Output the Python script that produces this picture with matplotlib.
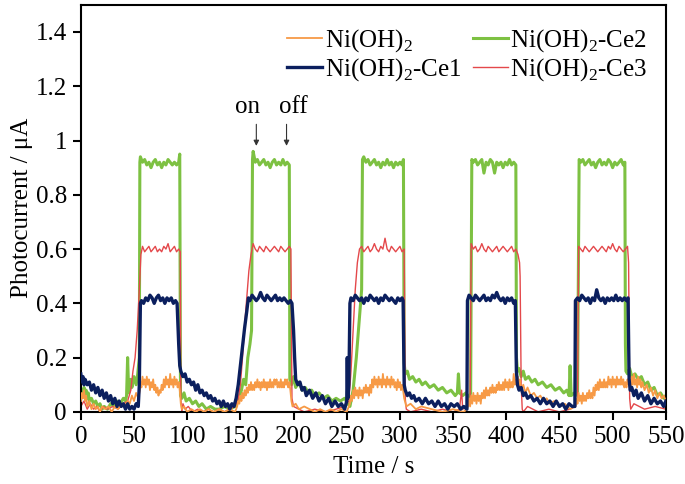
import numpy as np
import matplotlib
matplotlib.use("Agg")
import matplotlib.pyplot as plt

plt.rcParams['font.family'] = ['Liberation Serif', 'DejaVu Serif']
plt.rcParams['mathtext.fontset'] = 'custom'
plt.rcParams['mathtext.rm'] = 'Liberation Serif'

# (time / s, photocurrent / uA)
ni_oh2 = [
    (0, 0.04), (1, 0.07), (2, 0.05), (3, 0.08), (4, 0.04), (5, 0.06), (6, 0.02), (8, 0.04), (10, 0.01),
    (12, 0.03), (14, 0.01), (16, 0.02), (18, 0.0), (20, 0.02), (23, 0.01), (26, 0.02), (29, 0.0), (32, 0.02),
    (35, 0.01), (38, 0.03), (41, 0.02), (44, 0.04), (46, 0.03), (48, 0.06), (50, 0.04), (52, 0.07), (54, 0.05),
    (55.5, 0.08), (56, 0.11), (57, 0.09), (58, 0.13), (59, 0.10), (60, 0.12), (61, 0.09), (62, 0.13), (63, 0.10),
    (64, 0.12), (65, 0.08), (66, 0.11), (67, 0.09), (68, 0.12), (69, 0.08), (70, 0.10), (71, 0.07), (72, 0.09),
    (73, 0.06), (74, 0.08), (75, 0.07), (76, 0.10), (77, 0.08), (78, 0.12), (79, 0.09), (80, 0.13), (81, 0.10),
    (82, 0.12), (83, 0.09), (84, 0.14), (85, 0.10), (86, 0.12), (87, 0.09), (88, 0.13), (89, 0.10), (90, 0.12),
    (91, 0.09), (92, 0.11), (93, 0.08), (94, 0.03), (95, 0.01), (97, 0.02), (100, 0.0), (104, 0.01), (108, 0.0),
    (112, 0.01), (116, 0.0), (120, 0.01), (125, 0.0), (130, 0.01), (135, 0.0), (140, 0.01), (145, 0.0),
    (147, 0.02), (148, 0.04), (149, 0.03), (150, 0.06), (151, 0.04), (152, 0.07), (153, 0.05), (154, 0.08),
    (155, 0.06), (156, 0.09), (157, 0.07), (158, 0.10), (159, 0.08), (160, 0.11), (161, 0.08), (162, 0.10),
    (163, 0.08), (164, 0.11), (165, 0.09), (166, 0.12), (167, 0.09), (168, 0.11), (169, 0.08), (170, 0.11),
    (171, 0.09), (172, 0.12), (173, 0.09), (174, 0.11), (175, 0.08), (176, 0.11), (177, 0.09), (178, 0.12),
    (179, 0.09), (180, 0.11), (181, 0.09), (182, 0.12), (183, 0.10), (184, 0.12), (185, 0.09), (186, 0.11),
    (187, 0.09), (188, 0.12), (189, 0.09), (190, 0.11), (191, 0.09), (192, 0.12), (193, 0.10), (194, 0.12),
    (195, 0.09), (196, 0.11), (197, 0.08), (198, 0.04), (199, 0.02), (202, 0.03), (205, 0.01), (210, 0.02),
    (215, 0.01), (220, 0.0), (225, 0.01), (230, 0.0), (235, 0.01), (240, 0.0), (245, 0.01), (250, 0.0),
    (252, 0.02), (253, 0.03), (254, 0.06), (255, 0.04), (256, 0.08), (257, 0.05), (258, 0.09), (259, 0.06),
    (260, 0.08), (261, 0.05), (262, 0.09), (263, 0.06), (264, 0.08), (265, 0.05), (266, 0.09), (267, 0.07),
    (268, 0.10), (269, 0.07), (270, 0.09), (271, 0.06), (272, 0.10), (273, 0.07), (274, 0.12), (275, 0.09),
    (276, 0.13), (277, 0.10), (278, 0.12), (279, 0.09), (280, 0.13), (281, 0.10), (282, 0.12), (283, 0.09),
    (284, 0.14), (285, 0.10), (286, 0.12), (287, 0.09), (288, 0.13), (289, 0.10), (290, 0.12), (291, 0.09),
    (292, 0.13), (293, 0.10), (294, 0.12), (295, 0.09), (296, 0.11), (297, 0.08), (298, 0.12), (299, 0.09),
    (300, 0.11), (301, 0.08), (302, 0.10), (303, 0.08), (304, 0.05), (306, 0.02), (310, 0.03), (315, 0.01),
    (320, 0.02), (330, 0.01), (340, 0.0), (350, 0.01), (360, 0.0), (363, 0.01), (364, 0.02), (365, 0.05),
    (366, 0.02), (367, 0.06), (368, 0.03), (369, 0.07), (370, 0.04), (371, 0.06), (372, 0.03), (373, 0.07),
    (374, 0.04), (375, 0.06), (376, 0.03), (377, 0.07), (378, 0.05), (379, 0.08), (380, 0.05), (381, 0.09),
    (382, 0.06), (383, 0.08), (384, 0.06), (385, 0.09), (386, 0.07), (387, 0.10), (388, 0.07), (389, 0.09),
    (390, 0.07), (391, 0.10), (392, 0.08), (393, 0.11), (394, 0.08), (395, 0.10), (396, 0.08), (397, 0.11),
    (398, 0.08), (399, 0.12), (400, 0.09), (401, 0.11), (402, 0.08), (403, 0.12), (404, 0.09), (405, 0.11),
    (406, 0.09), (407, 0.14), (408, 0.10), (409, 0.12), (410, 0.10), (411, 0.13), (412, 0.09), (413, 0.12),
    (414, 0.08), (416, 0.10), (418, 0.07), (420, 0.09), (423, 0.06), (426, 0.07), (429, 0.05), (432, 0.06),
    (435, 0.04), (438, 0.05), (441, 0.03), (445, 0.04), (450, 0.02), (455, 0.03), (460, 0.01), (464, 0.02),
    (465, 0.02), (466, 0.05), (467, 0.03), (468, 0.07), (469, 0.04), (470, 0.06), (471, 0.03), (472, 0.07),
    (473, 0.04), (474, 0.06), (475, 0.04), (476, 0.07), (477, 0.05), (478, 0.08), (479, 0.05), (480, 0.07),
    (481, 0.05), (482, 0.09), (483, 0.06), (484, 0.10), (485, 0.08), (486, 0.11), (487, 0.08), (488, 0.12),
    (489, 0.09), (490, 0.11), (491, 0.09), (492, 0.12), (493, 0.09), (494, 0.11), (495, 0.09), (496, 0.13),
    (497, 0.10), (498, 0.12), (499, 0.09), (500, 0.13), (501, 0.10), (502, 0.12), (503, 0.09), (504, 0.13),
    (505, 0.10), (506, 0.12), (507, 0.10), (508, 0.13), (509, 0.10), (510, 0.12), (511, 0.09), (512, 0.11),
    (513, 0.09), (514, 0.12), (515, 0.10), (516, 0.12), (517, 0.09), (518, 0.13), (519, 0.10), (520, 0.14),
    (521, 0.10), (522, 0.12), (523, 0.09), (524, 0.13), (525, 0.10), (526, 0.12), (527, 0.09), (528, 0.11),
    (530, 0.08), (532, 0.10), (534, 0.07), (536, 0.09), (538, 0.06), (540, 0.08), (542, 0.05), (544, 0.07),
    (546, 0.05), (548, 0.06), (550, 0.04),
]

ni_ce1 = [
    (0, 0.14), (1, 0.11), (2, 0.13), (3, 0.10), (4, 0.12), (6, 0.10), (8, 0.11), (10, 0.08), (12, 0.10),
    (14, 0.07), (16, 0.09), (18, 0.06), (20, 0.08), (22, 0.05), (24, 0.07), (26, 0.04), (28, 0.06), (30, 0.03),
    (32, 0.05), (34, 0.02), (36, 0.04), (38, 0.02), (40, 0.03), (42, 0.01), (44, 0.03), (46, 0.01), (48, 0.02),
    (50, 0.01), (52, 0.03), (54, 0.02), (55, 0.10), (56, 0.40), (57, 0.41), (59, 0.40), (61, 0.42), (63, 0.41),
    (65, 0.43), (67, 0.42), (69, 0.40), (71, 0.42), (73, 0.43), (75, 0.41), (77, 0.42), (79, 0.40), (81, 0.42),
    (83, 0.41), (85, 0.42), (87, 0.40), (89, 0.41), (90.5, 0.40), (92, 0.25), (93, 0.17), (94, 0.15),
    (96, 0.13), (98, 0.14), (100, 0.11), (102, 0.12), (104, 0.10), (106, 0.11), (108, 0.08), (110, 0.10),
    (112, 0.07), (114, 0.08), (116, 0.06), (118, 0.07), (120, 0.05), (122, 0.06), (124, 0.04), (126, 0.05),
    (128, 0.03), (130, 0.04), (132, 0.02), (134, 0.04), (136, 0.02), (138, 0.03), (140, 0.01), (142, 0.03),
    (144, 0.02), (146, 0.05), (148, 0.10), (150, 0.17), (152, 0.24), (154, 0.31), (156, 0.37), (157.5, 0.42),
    (159, 0.41), (161, 0.43), (163, 0.42), (165, 0.41), (167, 0.42), (169, 0.44), (171, 0.42), (173, 0.41),
    (175, 0.43), (177, 0.42), (179, 0.41), (181, 0.42), (183, 0.43), (185, 0.41), (187, 0.42), (189, 0.41),
    (191, 0.42), (193, 0.41), (195, 0.40), (197, 0.41), (198.5, 0.40), (200, 0.30), (201, 0.20), (202, 0.12),
    (204, 0.10), (206, 0.11), (208, 0.08), (210, 0.09), (212, 0.06), (215, 0.08), (218, 0.05), (221, 0.07),
    (224, 0.04), (227, 0.06), (230, 0.03), (233, 0.05), (236, 0.02), (239, 0.04), (242, 0.02), (245, 0.03),
    (248, 0.01), (250, 0.04), (250.5, 0.20), (251, 0.05), (252, 0.10), (253, 0.40), (254, 0.42), (256, 0.41),
    (258, 0.43), (260, 0.42), (262, 0.41), (264, 0.42), (266, 0.40), (268, 0.42), (270, 0.41), (272, 0.43),
    (274, 0.42), (276, 0.41), (278, 0.42), (280, 0.40), (282, 0.42), (284, 0.41), (286, 0.43), (288, 0.42),
    (290, 0.41), (292, 0.42), (294, 0.41), (296, 0.40), (298, 0.42), (300, 0.41), (302, 0.42), (303, 0.41),
    (304, 0.10), (305, 0.08), (307, 0.06), (309, 0.07), (311, 0.05), (313, 0.06), (315, 0.04), (318, 0.05),
    (321, 0.03), (324, 0.05), (327, 0.03), (330, 0.04), (333, 0.02), (336, 0.04), (339, 0.02), (342, 0.03),
    (345, 0.01), (348, 0.03), (351, 0.02), (354, 0.03), (357, 0.01), (360, 0.02), (363, 0.01), (363.5, 0.41),
    (365, 0.43), (367, 0.42), (369, 0.41), (371, 0.43), (373, 0.42), (375, 0.41), (377, 0.42), (379, 0.43),
    (381, 0.41), (383, 0.42), (385, 0.41), (387, 0.43), (389, 0.42), (391, 0.44), (393, 0.42), (395, 0.41),
    (397, 0.42), (399, 0.40), (401, 0.42), (403, 0.41), (405, 0.42), (407, 0.40), (408.5, 0.41), (409.5, 0.15),
    (410.5, 0.10), (412, 0.08), (414, 0.09), (416, 0.06), (418, 0.07), (420, 0.05), (423, 0.06), (426, 0.04),
    (429, 0.05), (432, 0.03), (435, 0.05), (438, 0.03), (441, 0.04), (444, 0.02), (447, 0.04), (450, 0.02),
    (453, 0.03), (456, 0.01), (459, 0.03), (462, 0.02), (464.5, 0.02), (465, 0.41), (467, 0.42), (469, 0.41),
    (471, 0.43), (473, 0.42), (475, 0.41), (477, 0.42), (479, 0.40), (481, 0.42), (483, 0.41), (485, 0.45),
    (487, 0.42), (489, 0.41), (491, 0.42), (493, 0.40), (495, 0.42), (497, 0.41), (499, 0.42), (501, 0.41),
    (503, 0.43), (505, 0.41), (507, 0.42), (509, 0.41), (511, 0.42), (513, 0.41), (514.5, 0.42), (515.5, 0.12),
    (516.5, 0.08), (518, 0.09), (520, 0.06), (522, 0.08), (524, 0.05), (527, 0.07), (530, 0.04), (533, 0.06),
    (536, 0.03), (539, 0.05), (542, 0.03), (545, 0.04), (548, 0.02), (550, 0.04),
]

ni_ce2 = [
    (0, 0.05), (1, 0.08), (2, 0.06), (3, 0.09), (4, 0.07), (5, 0.08), (6, 0.05), (7, 0.07), (8, 0.04), (10, 0.05),
    (12, 0.03), (14, 0.04), (16, 0.02), (18, 0.03), (20, 0.01), (22, 0.02), (25, 0.01), (28, 0.03), (31, 0.02),
    (34, 0.04), (37, 0.03), (40, 0.05), (42, 0.04), (43, 0.06), (44, 0.20), (45, 0.07), (47, 0.12), (48, 0.09),
    (50, 0.13), (52, 0.10), (53.5, 0.14), (55, 0.20), (55.5, 0.92), (56, 0.94), (58, 0.92), (60, 0.93),
    (62, 0.91), (64, 0.92), (66, 0.90), (68, 0.92), (70, 0.93), (72, 0.91), (74, 0.92), (76, 0.90), (78, 0.92),
    (80, 0.91), (82, 0.93), (84, 0.92), (86, 0.91), (88, 0.92), (90, 0.91), (92, 0.92), (93, 0.95),
    (93.7, 0.06), (95, 0.05), (97, 0.07), (99, 0.04), (102, 0.05), (105, 0.03), (108, 0.04), (111, 0.02),
    (114, 0.03), (118, 0.01), (122, 0.02), (126, 0.01), (130, 0.01), (135, 0.02), (140, 0.01), (145, 0.02),
    (148, 0.04), (151, 0.08), (153, 0.12), (155, 0.10), (157, 0.20), (159, 0.25), (160.5, 0.30), (161.4, 0.93),
    (162, 0.96), (164, 0.92), (166, 0.93), (168, 0.91), (170, 0.92), (172, 0.93), (174, 0.91), (176, 0.92),
    (178, 0.90), (180, 0.92), (182, 0.93), (184, 0.91), (186, 0.92), (188, 0.91), (190, 0.93), (192, 0.91),
    (194, 0.92), (196, 0.91), (196.5, 0.12), (198, 0.10), (200, 0.13), (202, 0.09), (205, 0.11), (208, 0.08),
    (211, 0.09), (214, 0.07), (217, 0.08), (220, 0.06), (224, 0.07), (228, 0.05), (232, 0.06), (236, 0.04),
    (240, 0.05), (244, 0.04), (248, 0.05), (251, 0.03), (253, 0.02), (256, 0.08), (259, 0.20), (262, 0.35),
    (264, 0.45), (264.8, 0.93), (266, 0.94), (268, 0.92), (270, 0.93), (272, 0.91), (274, 0.92), (276, 0.93),
    (278, 0.91), (280, 0.92), (282, 0.90), (284, 0.92), (286, 0.91), (288, 0.93), (290, 0.91), (292, 0.92),
    (294, 0.90), (296, 0.92), (298, 0.91), (300, 0.92), (302, 0.91), (303.3, 0.93), (304, 0.18), (305, 0.14),
    (307, 0.15), (309, 0.12), (312, 0.13), (315, 0.11), (318, 0.12), (321, 0.10), (324, 0.11), (328, 0.09),
    (332, 0.10), (336, 0.08), (340, 0.09), (344, 0.07), (348, 0.08), (352, 0.06), (354, 0.07), (355, 0.14),
    (356, 0.07), (359, 0.06), (362, 0.07), (365, 0.05), (366.5, 0.07), (367.6, 0.93), (369, 0.92), (371, 0.93),
    (373, 0.91), (375, 0.92), (377, 0.93), (379, 0.88), (381, 0.92), (383, 0.91), (385, 0.93), (387, 0.92),
    (389, 0.88), (391, 0.92), (393, 0.91), (395, 0.92), (397, 0.90), (399, 0.92), (401, 0.91), (403, 0.93),
    (405, 0.91), (407, 0.92), (409, 0.91), (409.6, 0.20), (410.5, 0.15), (412, 0.16), (414, 0.13), (416, 0.15),
    (418, 0.12), (421, 0.13), (424, 0.11), (427, 0.12), (430, 0.10), (434, 0.11), (438, 0.09), (442, 0.10),
    (446, 0.08), (450, 0.09), (454, 0.07), (457, 0.08), (459, 0.06), (460, 0.17), (461, 0.06), (464, 0.07),
    (467, 0.06), (468.5, 0.93), (470, 0.92), (472, 0.93), (474, 0.91), (476, 0.92), (478, 0.93), (480, 0.91),
    (482, 0.92), (484, 0.90), (486, 0.92), (488, 0.93), (490, 0.91), (492, 0.92), (494, 0.91), (496, 0.93),
    (498, 0.92), (500, 0.90), (502, 0.92), (504, 0.91), (506, 0.92), (508, 0.93), (510, 0.91), (511.5, 0.92),
    (512, 0.25), (512.5, 0.15), (514, 0.14), (516, 0.16), (518, 0.13), (521, 0.14), (524, 0.12), (527, 0.13),
    (530, 0.10), (533, 0.11), (536, 0.08), (539, 0.09), (542, 0.06), (545, 0.07), (548, 0.05), (550, 0.06),
]

ni_ce3 = [
    (0, 0.02), (3, 0.04), (6, 0.01), (9, 0.03), (12, 0.01), (15, 0.02), (18, 0.0), (21, 0.02), (25, 0.01),
    (30, 0.02), (35, 0.01), (40, 0.03), (44, 0.04), (47, 0.08), (49, 0.15), (51, 0.20), (53, 0.30), (55, 0.45),
    (56.5, 0.58), (58, 0.61), (60, 0.59), (62, 0.60), (64, 0.61), (66, 0.59), (68, 0.60), (70, 0.61), (72, 0.59),
    (74, 0.60), (76, 0.59), (78, 0.61), (80, 0.60), (82, 0.62), (84, 0.59), (86, 0.60), (88, 0.61), (90, 0.59),
    (92, 0.60), (93.5, 0.59), (94, 0.05), (95, 0.0), (96, 0.03), (98, 0.01), (101, 0.02), (105, 0.0),
    (110, 0.01), (115, 0.0), (120, 0.01), (125, 0.0), (130, 0.01), (135, 0.0), (140, 0.01), (145, 0.02),
    (148, 0.05), (150, 0.10), (152, 0.20), (154, 0.32), (156, 0.42), (158, 0.52), (160, 0.58), (162, 0.62),
    (164, 0.60), (166, 0.59), (168, 0.61), (170, 0.60), (172, 0.59), (174, 0.61), (176, 0.60), (178, 0.59),
    (180, 0.60), (182, 0.61), (184, 0.60), (186, 0.59), (188, 0.61), (190, 0.60), (192, 0.59), (194, 0.60),
    (196, 0.61), (197.5, 0.60), (198.5, 0.05), (200, 0.02), (205, 0.01), (210, 0.0), (220, 0.01), (230, 0.0),
    (240, 0.01), (248, 0.02), (252, 0.04), (254, 0.15), (256, 0.30), (258, 0.45), (260, 0.55), (262, 0.60),
    (264, 0.61), (266, 0.59), (268, 0.60), (270, 0.61), (272, 0.59), (274, 0.60), (276, 0.62), (278, 0.60),
    (280, 0.59), (282, 0.61), (284, 0.60), (286, 0.64), (288, 0.60), (290, 0.59), (292, 0.61), (294, 0.60),
    (296, 0.59), (298, 0.60), (300, 0.61), (302, 0.59), (304, 0.60), (305, 0.05), (306, 0.01), (310, 0.0),
    (320, 0.01), (330, 0.0), (340, 0.01), (350, 0.0), (356, 0.01), (358, 0.08), (359, 0.01), (364, 0.02),
    (366, 0.05), (367, 0.62), (369, 0.60), (371, 0.61), (373, 0.59), (375, 0.60), (377, 0.62), (379, 0.60),
    (381, 0.59), (383, 0.61), (385, 0.60), (387, 0.59), (389, 0.60), (391, 0.61), (393, 0.59), (395, 0.60),
    (397, 0.61), (399, 0.60), (401, 0.59), (403, 0.60), (405, 0.61), (407, 0.59), (409, 0.60), (411, 0.58),
    (412.5, 0.55), (413, 0.50), (414, 0.10), (415, 0.01), (416, 0.0), (420, 0.02), (430, 0.0), (440, 0.01),
    (450, 0.0), (460, 0.01), (465, 0.02), (467, 0.05), (468, 0.61), (470, 0.60), (472, 0.59), (474, 0.61),
    (476, 0.60), (478, 0.59), (480, 0.60), (482, 0.61), (484, 0.60), (486, 0.59), (488, 0.60), (490, 0.61),
    (492, 0.60), (494, 0.59), (496, 0.61), (498, 0.60), (500, 0.62), (502, 0.60), (504, 0.59), (506, 0.61),
    (508, 0.60), (510, 0.59), (512, 0.60), (514, 0.61), (515, 0.55), (516, 0.05), (517, 0.01), (520, 0.03),
    (530, 0.01), (540, 0.02), (550, 0.01),
]

labels = [r'Ni(OH)$_2$', r'Ni(OH)$_2$-Ce1', r'Ni(OH)$_2$-Ce2', r'Ni(OH)$_2$-Ce3']
colors = ['#F79A46', '#0B1F5E', '#7DC142', '#E4484B']
x_ticks = [0, 50, 100, 150, 200, 250, 300, 350, 400, 450, 500, 550]
y_ticks = [0, 0.2, 0.4, 0.6, 0.8, 1.0, 1.2, 1.4]
y_tick_labels = ['0', '0.2', '0.4', '0.6', '0.8', '1', '1.2', '1.4']

fig = plt.figure(figsize=(6.85, 4.84), dpi=100)
ax = fig.add_axes([0.118, 0.149, 0.854, 0.841])

series = [ni_oh2, ni_ce1, ni_ce2, ni_ce3]
widths = [1.3, 2.4, 2.2, 1.0]
zorders = [3, 4, 1, 2]
handles = []
for data, lab, col, lw, zo in zip(series, labels, colors, widths, zorders):
    t, i = np.array(data).T
    h, = ax.plot(t, i, color=col, lw=lw, label=lab, zorder=zo)
    handles.append(h)

ax.set_xlim(0, 550)
ax.set_ylim(0, 1.5)
ax.set_xticks(x_ticks)
ax.set_yticks(y_ticks)
ax.set_yticklabels(y_tick_labels)
ax.tick_params(direction='out', length=6, width=1.5, labelsize=18, pad=4)
for s in ax.spines.values():
    s.set_linewidth(1.5)

ax.set_xlabel('Time / s', fontsize=18, labelpad=6)
ax.set_ylabel('Photocurrent / μA', fontsize=18, labelpad=2)

# light on / off markers above the second pulse
arrow = dict(arrowstyle='-|>', color='#333333', lw=0.8, mutation_scale=8)
ax.annotate('', xy=(165, 0.97), xytext=(165, 1.07), arrowprops=arrow)
ax.annotate('', xy=(193.4, 0.97), xytext=(193.4, 1.07), arrowprops=arrow)
ax.text(157, 1.125, 'on', fontsize=18, ha='center', va='center')
ax.text(200, 1.125, 'off', fontsize=18, ha='center', va='center')

ax.legend(handles, labels, ncol=2, frameon=False, fontsize=18, loc='upper right',
          bbox_to_anchor=(0.968, 0.945), handlelength=1.4, handletextpad=0.1,
          columnspacing=0.45, labelspacing=0.1, borderaxespad=0, borderpad=0)

fig.savefig('out.png', dpi=100)
